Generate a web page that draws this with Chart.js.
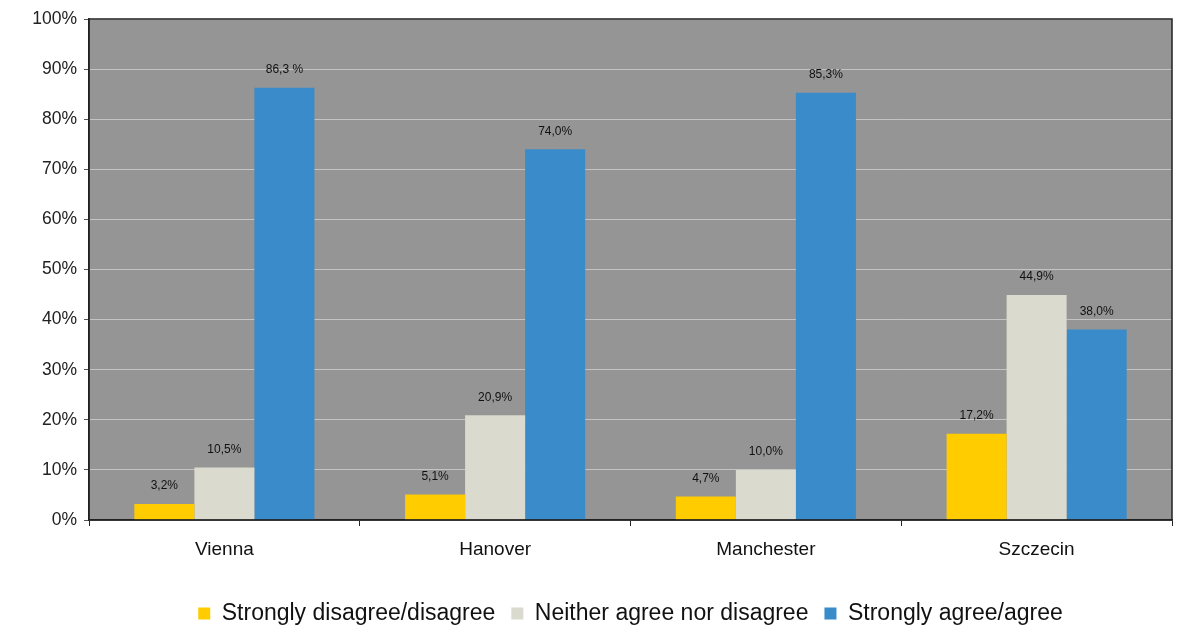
<head>
    <meta charset="UTF-8">
    <title>Survey Chart</title>
    <script src="https://cdn.jsdelivr.net/npm/chart.js@4"></script>
    <style>
        body { margin: 0; background: #fff; }
        #wrap { width: 1179px; height: 626px; }
    </style>
</head>
<body>
    <div id="wrap"><canvas id="surveyChart"></canvas></div>

    <script>
        var cities = ['Vienna', 'Hanover', 'Manchester', 'Szczecin'];
        var seriesNames = ['Strongly disagree/disagree', 'Neither agree nor disagree', 'Strongly agree/agree'];

        var disagree = [3.2, 5.1, 4.7, 17.2];
        var neither = [10.5, 20.9, 10.0, 44.9];
        var agree = [86.3, 74.0, 85.3, 38.0];

        var disagreeLabels = ['3,2%', '5,1%', '4,7%', '17,2%'];
        var neitherLabels = ['10,5%', '20,9%', '10,0%', '44,9%'];
        var agreeLabels = ['86,3 %', '74,0%', '85,3%', '38,0%'];

        var yTicks = [0, 10, 20, 30, 40, 50, 60, 70, 80, 90, 100];

        Chart.defaults.font.family = '"Liberation Sans", Arial, sans-serif';
        Chart.defaults.color = '#222';

        // grey plot background with a dark frame
        var plotFrame = {
            id: 'plotFrame',
            beforeDraw: function (chart) {
                var a = chart.chartArea, ctx = chart.ctx;
                ctx.save();
                ctx.fillStyle = '#959595';
                ctx.fillRect(a.left, a.top, a.right - a.left, a.bottom - a.top);
                ctx.restore();
            },
            afterDraw: function (chart) {
                var a = chart.chartArea, ctx = chart.ctx;
                ctx.save();
                ctx.strokeStyle = '#222';
                ctx.lineWidth = 1.5;
                ctx.strokeRect(a.left, a.top, a.right - a.left, a.bottom - a.top);
                ctx.restore();
            }
        };

        var barLabels = {
            id: 'barLabels',
            afterDatasetsDraw: function (chart) {
                var ctx = chart.ctx;
                ctx.save();
                ctx.font = '12px "Liberation Sans", Arial, sans-serif';
                ctx.fillStyle = '#111';
                ctx.textAlign = 'center';
                ctx.textBaseline = 'middle';
                chart.data.datasets.forEach(function (ds, i) {
                    chart.getDatasetMeta(i).data.forEach(function (bar, j) {
                        ctx.fillText(ds.valueLabels[j], bar.x, bar.y - 18);
                    });
                });
                ctx.restore();
            }
        };

        var chartElement = document.getElementById('surveyChart').getContext('2d');
        var surveyChart = new Chart(chartElement, {
            type: 'bar',
            data: {
                labels: cities,
                datasets: [{
                    label: seriesNames[0],
                    data: disagree,
                    valueLabels: disagreeLabels,
                    backgroundColor: '#FFCC00'
                }, {
                    label: seriesNames[1],
                    data: neither,
                    valueLabels: neitherLabels,
                    backgroundColor: '#DADACE'
                }, {
                    label: seriesNames[2],
                    data: agree,
                    valueLabels: agreeLabels,
                    backgroundColor: '#398BC9'
                }]
            },
            options: {
                responsive: true,
                maintainAspectRatio: false,
                animation: false,
                datasets: {
                    bar: { categoryPercentage: 0.665, barPercentage: 1.0 }
                },
                layout: { padding: { top: 19, right: 7, left: 0, bottom: -9 } },
                plugins: {
                    tooltip: { enabled: false },
                    legend: {
                        position: 'bottom',
                        fullSize: false,
                        labels: {
                            boxWidth: 12,
                            boxHeight: 12,
                            padding: 16,
                            color: '#111',
                            font: { size: 23 }
                        }
                    }
                },
                scales: {
                    x: {
                        grid: {
                            drawOnChartArea: false,
                            tickColor: '#222',
                            tickLength: 6
                        },
                        border: { color: '#222', width: 1.5 },
                        ticks: { font: { size: 19 }, color: '#111', padding: 12 },
                        afterFit: function (scale) { scale.height = 66; }
                    },
                    y: {
                        min: 0,
                        max: 100,
                        afterBuildTicks: function (scale) {
                            scale.ticks = yTicks.map(function (v) { return { value: v }; });
                        },
                        ticks: {
                            font: { size: 17.5 },
                            color: '#222',
                            padding: 7,
                            callback: function (v) { return v + '%'; }
                        },
                        grid: {
                            color: '#c4c4c4',
                            tickColor: '#555',
                            tickLength: 5
                        },
                        border: { color: '#222', width: 1.5 },
                        afterFit: function (scale) { scale.width = 89; }
                    }
                }
            },
            plugins: [plotFrame, barLabels]
        });
    </script>
</body>
